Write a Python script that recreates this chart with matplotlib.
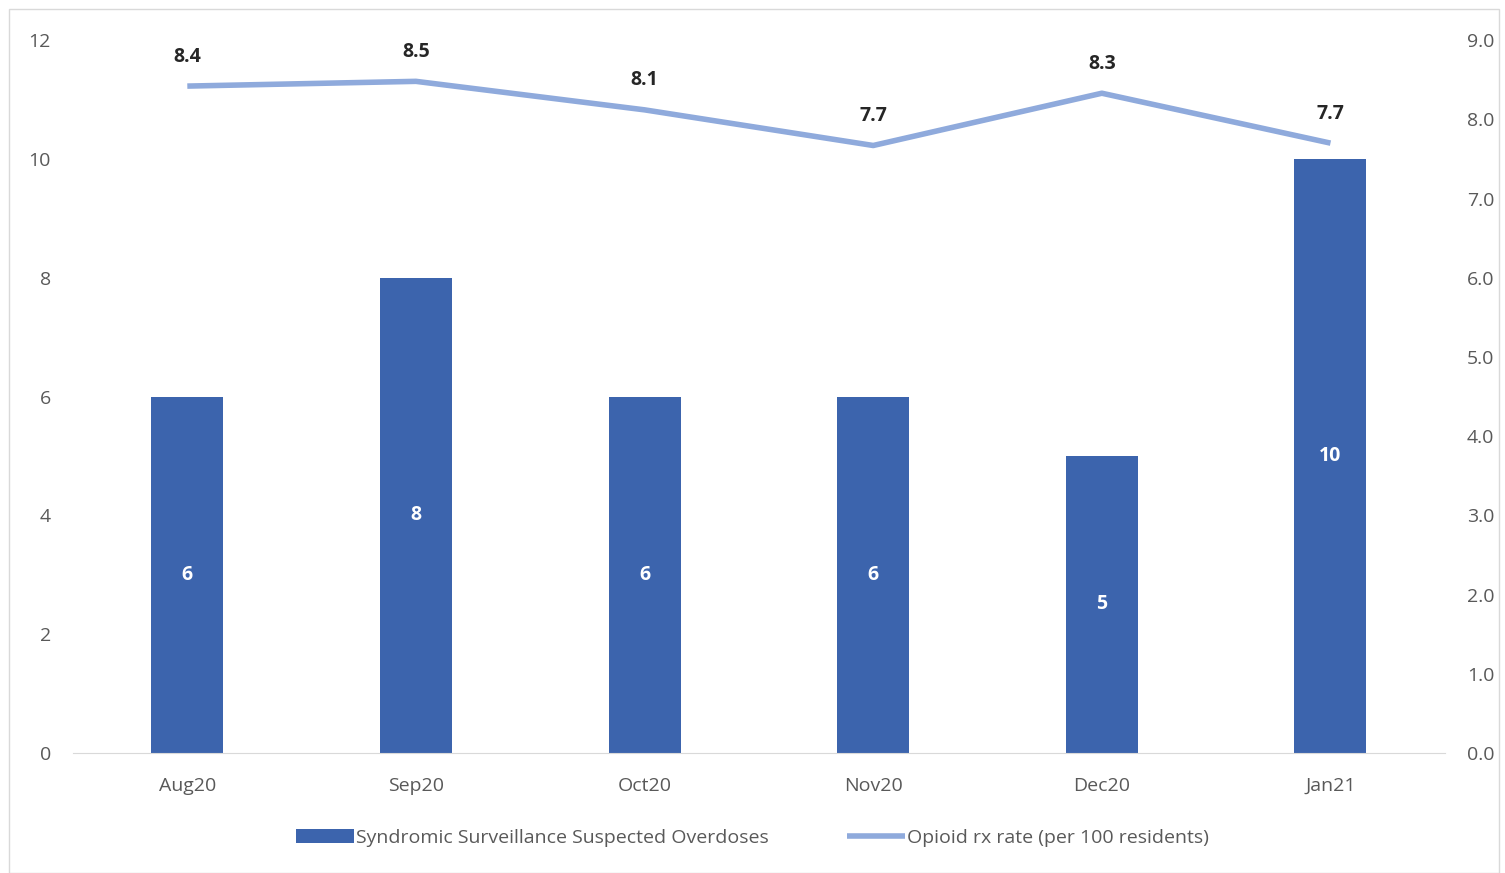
import matplotlib
matplotlib.use("Agg")
import matplotlib.pyplot as plt
from matplotlib.patches import Rectangle

months = ["Aug20", "Sep20", "Oct20", "Nov20", "Dec20", "Jan21"]
overdoses = [6, 8, 6, 6, 5, 10]
rx_rate = [8.4, 8.5, 8.1, 7.7, 8.3, 7.7]
rx_pos = [8.42, 8.48, 8.12, 7.67, 8.33, 7.7]

plt.rcParams['font.family'] = ['Open Sans', 'DejaVu Sans']
fig = plt.figure(figsize=(15.05, 8.73), dpi=100)
fig.patches.append(Rectangle((0.006, 0.0), 0.99, 0.99, transform=fig.transFigure,
                             fill=False, edgecolor="#d9d9d9", lw=1))
ax = fig.add_axes([0.0485, 0.1375, 0.9115, 0.8165])
ax2 = ax.twinx()
x = list(range(len(months)))
bars = ax.bar(x, overdoses, width=0.315, color="#3C64AD", zorder=2,
              label="Syndromic Surveillance Suspected Overdoses")
for xi, v in zip(x, overdoses):
    ax.text(xi, v / 2, str(v), ha="center", va="center", color="white",
            fontsize=14, fontweight="bold")
ax.set_ylim(0, 12)
ax.set_yticks(range(0, 13, 2))
ax.set_xlim(-0.5, 5.5)
ax.set_xticks(x)
ax.set_xticklabels(months)
line, = ax2.plot(x, rx_pos, color="#8FAADC", lw=4, solid_capstyle="butt",
                 label="Opioid rx rate (per 100 residents)")
for xi, yv, v in zip(x, rx_pos, rx_rate):
    ax2.annotate(f"{v:.1f}", (xi, yv), xytext=(0, 14), textcoords="offset points",
                 ha="center", va="bottom", fontsize=14, fontweight="bold", color="#262626")
ax2.set_ylim(0, 9)
ax2.set_yticks([i * 1.0 for i in range(10)])
ax2.set_yticklabels([f"{i:.1f}" for i in range(10)])
for a in (ax, ax2):
    for s in a.spines.values():
        s.set_visible(False)
    a.tick_params(length=0, labelsize=14, colors="#595959")
ax.spines["bottom"].set_visible(True)
ax.spines["bottom"].set_color("#d9d9d9")
ax.tick_params(axis="x", pad=17)
ax.tick_params(axis="y", pad=16)
ax2.tick_params(axis="y", pad=16)
fig.legend([bars, line], [bars.get_label(), line.get_label()], loc="center",
           bbox_to_anchor=(0.5, 0.04), ncol=2, frameon=False, fontsize=14,
           handlelength=3.0, handletextpad=0.1, columnspacing=4,
           labelcolor="#595959")
fig.savefig("out.png", dpi=100)
